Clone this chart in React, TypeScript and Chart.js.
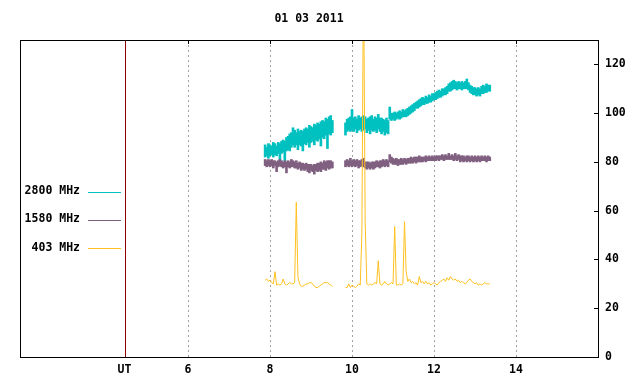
import { useEffect, useRef } from 'react';
import { Chart, registerables } from 'chart.js';

Chart.register(...registerables);

const chartTitle = '01 03 2011';
const seriesLabels = ['2800 MHz', '1580 MHz', '403 MHz'];
const seriesColors = ['#00c0c0', '#806080', '#ffc020'];
const xTickValues = [4.45, 6, 8, 10, 12, 14];
const xTickLabels = ['UT', '6', '8', '10', '12', '14'];
const utPosition = 4.45;
const yTickValues = [0, 20, 40, 60, 80, 100, 120];

// sampling grid of the two observation segments (hours UT)
const seg1Start = 7.88;
const seg2Start = 9.84;
const sampleStep = 0.04;
const gapTime = 9.68;

// 2800 MHz: [min, max] flux within each sample bin
const mhz2800Seg1 = [
  [82, 87], [82.5, 86], [81.5, 87.5], [82.5, 87], [83, 86.5], [82, 88], [83, 87.5], [82.5, 86.5], [83.5, 88], [79.5, 87.5],
  [83.5, 88.5], [84, 89], [80.5, 88.5], [84.5, 90], [85, 90.5], [84.5, 91.5], [86, 92], [87, 94], [86, 93], [87, 92],
  [85, 93.5], [87, 92.5], [86.5, 93], [84.5, 92.5], [87.5, 93.5], [87, 94], [88, 93.5], [86, 95], [88, 94.5], [88.5, 94],
  [87, 95.5], [89, 95], [88.5, 96], [89.5, 95.5], [86.5, 96.5], [90, 97], [89.5, 96.5], [91, 98], [85.5, 97.5], [91.5, 98.5],
  [91, 99], [92, 97],
];
const mhz2800Seg2 = [
  [91, 96], [92.5, 97.5], [93, 98], [92.5, 98.5], [93, 101.5], [92.5, 98], [93.5, 98.5], [92, 97.5], [93, 99], [93.5, 98],
  [92.5, 98.5], [93, 99], [93.5, 98.5], [92, 97.5], [93, 98], [91.5, 98.5], [93, 99], [92.5, 97.5], [93, 98.5], [92, 98],
  [93.5, 99.5], [92.5, 98], [91.5, 98], [92.5, 97.5], [91, 97], [92, 98], [91.5, 97], [97.5, 102.5], [97, 100], [97.5, 100],
  [97, 100.5], [97.5, 100], [98, 100.5], [97.5, 101], [98, 100.5], [98.5, 101.5], [98.5, 101], [98.5, 101.5], [99, 102], [99.5, 102.5],
  [100, 103], [100.5, 103.5], [101, 104], [102, 104.5], [102, 105], [102.5, 105.5], [103, 106], [103.5, 106.5], [103.5, 106], [104, 107],
  [104, 106.5], [104.5, 107.5], [104.5, 107], [105, 108], [105.5, 108], [105.5, 108.5], [106, 109], [106.5, 109.5], [106.5, 109], [107, 110],
  [107.5, 110], [107.5, 110.5], [108, 111], [109, 112], [109, 112.5], [109.5, 113], [110, 113.5], [110, 113], [109.5, 112.5], [110, 113],
  [110, 112.5], [109.5, 113], [110, 112.5], [110, 113], [110, 114], [109.5, 112.5], [108.5, 111.5], [108, 111], [107.5, 110.5], [107.5, 110.5],
  [107, 110], [107.5, 110.5], [107, 110], [108, 111], [108, 111.5], [108.5, 111], [108.5, 112], [109, 111.5], [109, 111.5],
];

// 1580 MHz: [min, max] flux within each sample bin
const mhz1580Seg1 = [
  [78.5, 81], [78, 80.5], [78.5, 81], [78, 80.5], [78.5, 81], [77.5, 80.5], [78.5, 80.5], [76, 80], [78, 80.5], [78.5, 81],
  [78, 80.5], [77.5, 80], [78, 80.5], [75.5, 80], [78, 80.5], [77.5, 80], [78, 81], [78, 80.5], [77.5, 80], [77.5, 80.5],
  [77, 79.5], [77.5, 80], [76.5, 79.5], [77, 79.5], [76.5, 79], [77, 79.5], [76, 79], [75.5, 79], [76.5, 79], [76, 78.5],
  [75, 79], [76.5, 79], [76, 79.5], [76.5, 79.5], [76, 80], [77, 79.5], [77, 80.5], [76.5, 80], [77.5, 80.5], [77, 80.5],
  [77.5, 80.5], [77.5, 80],
];
const mhz1580Seg2 = [
  [78, 80.5], [78.5, 81], [78, 80.5], [78.5, 81.5], [78, 80.5], [78.5, 81], [78, 80.5], [78.5, 81], [77.5, 80.5], [78, 80.5],
  [78.5, 81], [78, 81.5], [77.5, 80], [77, 80], [77.5, 80], [77, 79.5], [77.5, 80], [77, 80], [77.5, 80], [78, 80.5],
  [78, 80], [77.5, 80.5], [78, 80.5], [78.5, 81], [78, 80.5], [78.5, 81], [78, 80.5], [80, 83], [79.5, 82], [79, 81.5],
  [79, 81], [79, 81.5], [78.5, 81], [79, 81], [79, 81.5], [79, 81], [79.5, 81.5], [79, 81], [79.5, 81.5], [79.5, 81.5],
  [79.5, 82], [79.5, 81.5], [80, 82], [79.5, 82], [80, 82], [80, 82.5], [80, 82], [80, 82], [80.5, 82], [80, 82.5],
  [80.5, 82], [80.5, 82.5], [80.5, 82], [80.5, 82.5], [80.5, 82], [80.5, 82.5], [81, 82.5], [80.5, 82.5], [81, 82.5], [81, 83],
  [80.5, 82.5], [81, 83], [81, 82.5], [81, 83.5], [81, 82.5], [81, 83], [80.5, 82.5], [81, 83.5], [80.5, 82.5], [81, 83],
  [80, 82.5], [80.5, 82.5], [80, 82.5], [80.5, 82], [80, 82.5], [80.5, 82.5], [80, 82], [80.5, 82.5], [80, 82], [80.5, 82.5],
  [80, 82], [80.5, 82.5], [80, 82], [80.5, 82.5], [80.5, 82], [80.5, 82.5], [80, 82], [80.5, 82.5], [80.5, 82],
];

// 403 MHz flux per sample
const mhz403Seg1 = [
  31.5, 32, 31, 31.5, 30.5, 30, 35, 29.5, 30, 29.5,
  30, 32, 30, 29.5, 30, 30.5, 30, 30, 30.5, 63.5,
  33, 30, 29, 29, 29.5, 30, 30, 30.5, 30.5, 30,
  29, 28.5, 28.5, 29, 29.5, 30, 30.5, 30.5, 30.5, 30,
  29.5, 29,
];
const mhz403Seg2 = [
  28.5, 28.5, 30, 28.5, 29.5, 29, 28.5, 29, 30, 29.5,
  51, 160, 55.5, 30, 29.5, 30, 29.5, 30, 30.5, 30,
  39.5, 30, 29.5, 30, 31, 30, 29.5, 30, 30.5, 30,
  53.5, 29.5, 29.5, 30, 29.5, 30, 55.5, 35, 31, 32,
  30.5, 31, 30, 30.5, 29.5, 33, 30.5, 31, 30, 31,
  30, 30.5, 29.5, 30, 30.5, 30, 29.5, 30.5, 31, 31.5,
  32, 31, 32.5, 31.5, 33, 32, 31.5, 32, 31, 31.5,
  30.5, 31, 30.5, 30, 30.5, 31.5, 32, 31, 30.5, 30,
  30.5, 29.5, 30, 29.5, 30, 30.5, 30, 30, 30,
];

function buildRanges(seg1: number[][], seg2: number[][]) {
  const pts: { x: number; y: number[] }[] = [];
  seg1.forEach((r, i) => pts.push({ x: seg1Start + i * sampleStep, y: r }));
  seg2.forEach((r, i) => pts.push({ x: seg2Start + i * sampleStep, y: r }));
  return pts;
}

function buildPoints(seg1: number[], seg2: number[]) {
  const pts: { x: number; y: number | null }[] = [];
  seg1.forEach((v, i) => pts.push({ x: seg1Start + i * sampleStep, y: v }));
  pts.push({ x: gapTime, y: null });
  seg2.forEach((v, i) => pts.push({ x: seg2Start + i * sampleStep, y: v }));
  return pts;
}

const FONT_FAMILY = '"DejaVu Sans Mono", "Liberation Mono", monospace';
const FONT_SIZE = 11.5;

const decorPlugin = {
  id: 'decor',
  beforeDatasetsDraw(chart: any) {
    const { ctx, chartArea, scales } = chart;
    const { top, bottom } = chartArea;
    const ux = Math.round(scales.x.getPixelForValue(utPosition)) + 0.5;
    ctx.save();
    ctx.strokeStyle = '#900000';
    ctx.lineWidth = 1;
    ctx.beginPath();
    ctx.moveTo(ux, top);
    ctx.lineTo(ux, bottom);
    ctx.stroke();
    ctx.restore();
  },
  afterDraw(chart: any) {
    const { ctx, chartArea, scales } = chart;
    const { left, top, right, bottom } = chartArea;
    ctx.save();
    ctx.strokeStyle = '#000';
    ctx.lineWidth = 1;
    ctx.strokeRect(Math.round(left) + 0.5, Math.round(top) + 0.5, Math.round(right - left), Math.round(bottom - top));
    ctx.beginPath();
    yTickValues.forEach((v) => {
      const py = Math.round(scales.y.getPixelForValue(v)) + 0.5;
      ctx.moveTo(right - 4, py);
      ctx.lineTo(right, py);
    });
    xTickValues.forEach((v) => {
      if (v === utPosition) return;
      const px = Math.round(scales.x.getPixelForValue(v)) + 0.5;
      ctx.moveTo(px, top);
      ctx.lineTo(px, top + 4);
    });
    ctx.stroke();
    ctx.fillStyle = '#000';
    ctx.font = `bold ${FONT_SIZE}px ${FONT_FAMILY}`;
    ctx.textAlign = 'center';
    ctx.textBaseline = 'middle';
    ctx.fillText(chartTitle, (left + right) / 2, 19);
    const legendY = [191.5, 219.5, 248];
    chart.data.datasets.forEach((ds: any, i: number) => {
      ctx.textAlign = 'right';
      ctx.fillStyle = '#000';
      ctx.fillText(ds.label, 80, legendY[i]);
      ctx.strokeStyle = seriesColors[i];
      ctx.lineWidth = 1;
      ctx.beginPath();
      ctx.moveTo(88, Math.round(legendY[i]) + 0.5);
      ctx.lineTo(121, Math.round(legendY[i]) + 0.5);
      ctx.stroke();
    });
    ctx.restore();
  },
};

export default function App() {
  const canvasRef = useRef<HTMLCanvasElement | null>(null);

  useEffect(() => {
    const canvas = canvasRef.current;
    if (!canvas) return;
    const barCommon = {
      type: 'bar',
      borderWidth: 0,
      borderSkipped: false,
      barThickness: 2,
      grouped: false,
    };
    const chart = new Chart(canvas, {
      type: 'line',
      data: {
        datasets: [
          {
            ...barCommon,
            label: seriesLabels[0],
            data: buildRanges(mhz2800Seg1, mhz2800Seg2),
            backgroundColor: seriesColors[0],
            borderColor: seriesColors[0],
            order: 3,
          },
          {
            ...barCommon,
            label: seriesLabels[1],
            data: buildRanges(mhz1580Seg1, mhz1580Seg2),
            backgroundColor: seriesColors[1],
            borderColor: seriesColors[1],
            order: 2,
          },
          {
            type: 'line',
            label: seriesLabels[2],
            data: buildPoints(mhz403Seg1, mhz403Seg2),
            borderColor: seriesColors[2],
            backgroundColor: seriesColors[2],
            borderWidth: 1,
            pointRadius: 0,
            tension: 0,
            spanGaps: false,
            order: 1,
          },
        ],
      },
      options: {
        responsive: false,
        animation: false,
        devicePixelRatio: 1,
        layout: { padding: { left: 20, top: 40, right: 0, bottom: 0 } },
        plugins: {
          legend: { display: false },
          title: { display: false },
          tooltip: { enabled: false },
        },
        scales: {
          x: {
            type: 'linear',
            min: 1.9,
            max: 16,
            offset: false,
            afterBuildTicks: (scale: any) => {
              scale.ticks = xTickValues.map((v) => ({ value: v }));
            },
            afterFit: (scale: any) => {
              scale.height = 27;
            },
            ticks: {
              autoSkip: false,
              maxRotation: 0,
              padding: 6,
              color: '#000',
              font: { family: FONT_FAMILY, size: FONT_SIZE, weight: 'bold' },
              callback: (value: any) => {
                const idx = xTickValues.indexOf(Number(value));
                return idx >= 0 ? xTickLabels[idx] : '';
              },
            },
            grid: {
              offset: false,
              drawTicks: false,
              lineWidth: 1,
              color: (c: any) => (c.tick && c.tick.value === utPosition ? 'rgba(0,0,0,0)' : '#a0a0a0'),
            },
            border: { display: false, dash: [2, 3] },
          },
          y: {
            type: 'linear',
            position: 'right',
            min: 0,
            max: 130,
            afterBuildTicks: (scale: any) => {
              scale.ticks = yTickValues.map((v) => ({ value: v }));
            },
            afterFit: (scale: any) => {
              scale.width = 42;
            },
            ticks: {
              padding: 7,
              color: '#000',
              font: { family: FONT_FAMILY, size: FONT_SIZE, weight: 'bold' },
              callback: (value: any) => String(value),
            },
            grid: { display: false, drawOnChartArea: false, drawTicks: false },
            border: { display: false },
          },
        },
      },
      plugins: [decorPlugin],
    } as any);
    return () => chart.destroy();
  }, []);

  return (
    <div style={{ position: 'absolute', left: 0, top: 0, width: 640, height: 384, background: '#fff' }}>
      <canvas ref={canvasRef} width={640} height={384} style={{ display: 'block' }} />
    </div>
  );
}
